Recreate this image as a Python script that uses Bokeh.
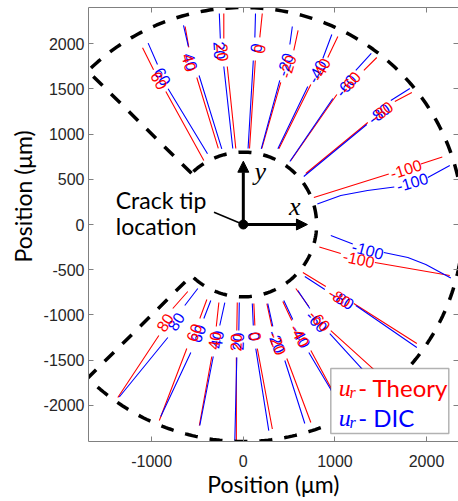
import numpy as np
from bokeh.plotting import figure
from bokeh.models import (FixedTicker, LinearAxis, CustomJSTickFormatter, Label, Title,
                          Arrow, NormalHead, BoxAnnotation)
from bokeh.core.properties import value
from bokeh.embed import file_html
from bokeh.resources import INLINE

nan = float("nan")

# ---------------- data (positions in micrometres) ----------------
x_ticks = [-1000, 0, 1000, 2000]
y_ticks = [-2000, -1500, -1000, -500, 0, 500, 1000, 1500, 2000]

levels = [60, 40, 20, 0, -20, -40, -60, -80, -100,
          -100, -80, -60, -40, -20, 0, 20, 40, 60, 80]

# theory (red) contour polylines, nan = gap for the inline label
theory_x = [
    [-1100, -980, nan, -846, -431],
    [-635, -595, nan, -508, -273],
    [-213, -213, nan, -175, -82],
    [207, 180, nan, 131, 68],
    [598, 551, nan, 409, 202],
    [1032, 922, nan, 737, 388],
    [1457, 1316, nan, 1021, 519],
    [1840, 1654, nan, 1359, 682],
    [2172, 1938, nan, 1588, 770],
    [830, 1064, nan, 1436, 2254],
    [650, 901, nan, 1206, 1894],
    [573, 715, nan, 955, 1414, 1556],
    [431, 529, nan, 737, 955, 1086],
    [257, 311, nan, 475, 737],
    [115, 126, nan, 153, 317],
    [-66, -71, nan, -76, -76],
    [-267, -295, nan, -344, -480],
    [-398, -475, nan, -617, -917],
    [-606, -770, nan, -922, -1370],
]
theory_y = [
    [1955, 1711, nan, 1471, 708],
    [2190, 1958, nan, 1626, 841],
    [2334, 2058, nan, 1748, 841],
    [2334, 2069, nan, 1814, 841],
    [2146, 1925, nan, 1571, 841],
    [2080, 1847, nan, 1549, 837],
    [1847, 1704, nan, 1438, 708],
    [1460, 1361, nan, 1128, 564],
    [747, 669, nan, 559, 299],
    [-249, -321, nan, -420, -564],
    [-531, -686, nan, -874, -1316],
    [-708, -907, nan, -1173, -1593, -1759],
    [-852, -1062, nan, -1394, -1803, -2102],
    [-874, -1128, nan, -1482, -2190],
    [-874, -1117, nan, -1372, -2262],
    [-863, -1173, nan, -1471, -2389],
    [-863, -1128, nan, -1460, -2223],
    [-830, -1040, nan, -1372, -2168],
    [-741, -929, nan, -1228, -1914],
]

# DIC (blue) contour polylines
dic_x = [
    [-1039, -937, nan, -821, -391],
    [-653, -600, nan, -483, -235],
    [-262, -251, nan, -213, -115],
    [133, 126, nan, 109, 52],
    [535, 508, nan, 398, 196],
    [966, 868, nan, 704, 377],
    [1397, 1228, nan, 977, 508],
    [1818, 1610, nan, 1348, 660],
    [2254, 2014, nan, 1648, 1356, 1064, 808],
    [955, 1195, nan, 1534, 1796, 1992, 2265],
    [671, 890, nan, 1228, 1894],
    [595, 726, nan, 944, 1283, 1447],
    [442, 540, nan, 715, 955, 1075],
    [267, 322, nan, 453, 671],
    [98, 109, nan, 136, 278],
    [-44, -49, nan, -71, -93],
    [-202, -257, nan, -328, -475],
    [-355, -431, nan, -573, -901],
    [-497, -639, nan, -824, -1354],
]
dic_y = [
    [2006, 1770, nan, 1501, 782],
    [2201, 1969, nan, 1648, 837],
    [2334, 2058, nan, 1748, 841],
    [2334, 2069, nan, 1814, 841],
    [2190, 1991, nan, 1593, 837],
    [2102, 1836, nan, 1527, 837],
    [1892, 1704, nan, 1394, 697],
    [1504, 1372, nan, 1106, 531],
    [653, 520, nan, 415, 376, 321, 227],
    [-122, -216, nan, -310, -365, -442, -592],
    [-575, -719, nan, -896, -1361],
    [-730, -929, nan, -1206, -1582, -1781],
    [-841, -1051, nan, -1416, -1825, -2113],
    [-874, -1128, nan, -1504, -2201],
    [-874, -1117, nan, -1372, -2279],
    [-863, -1173, nan, -1471, -2389],
    [-863, -1117, nan, -1460, -2223],
    [-841, -1040, nan, -1416, -2124],
    [-708, -896, nan, -1250, -1908],
]

# inline contour labels
theory_label_x = [-917, -590, -224, 175, 486, 846, 1163, 1512, 1774,
                  1261, 1053, 835, 617, 377, 136, -82, -317, -540, -857]
theory_label_y = [1593, 1790, 1903, 1941, 1748, 1715, 1571, 1250, 614,
                  -382, -808, -1062, -1228, -1316, -1239, -1305, -1283, -1195, -1084]
theory_label_angle = [-62, -75, -86, 84, 73, 62, 50, 37, 17.5,
                      -12, -32, -46, -61, -70, -83, 88, 81, 69, 57]
dic_label_x = [-879, -575, -257, 136, 453, 802, 1119, 1479, 1845,
               1359, 1086, 802, 628, 366, 120, -60, -289, -497, -737]
dic_label_y = [1637, 1800, 1925, 1953, 1770, 1693, 1538, 1228, 470,
               -282, -830, -1073, -1239, -1294, -1239, -1294, -1272, -1206, -1073]
dic_label_angle = [-62, -75, -86, 84, 73, 62, 50, 37, 16,
                   -15, -32, -46, -61, -70, -83, 88, 81, 69, 57]

# measurement region: annular sector
r_inner, r_outer = 800, 2400
sector_half_angle_deg = 135

# ---------------- figure ----------------
p = figure(width=458, height=501, x_range=(-1690, 2349), y_range=(-2400, 2400),
           output_backend="svg", toolbar_location=None,
           min_border_left=88, min_border_right=0, min_border_top=7, min_border_bottom=60)
p.grid.visible = False
p.outline_line_color = None
p.background_fill_color = "white"

AX = "#808080"
plain = CustomJSTickFormatter(code="return tick.toFixed(0)")
for ax, ticks in ((p.xaxis[0], x_ticks), (p.yaxis[0], y_ticks)):
    ax.ticker = FixedTicker(ticks=ticks)
    ax.formatter = plain
    ax.major_tick_in = 5
    ax.major_tick_out = 0
    ax.minor_tick_line_color = None
    ax.axis_line_color = AX
    ax.major_tick_line_color = AX
    ax.major_label_text_font = "Liberation Sans"
    ax.major_label_text_font_size = "16px"
    ax.major_label_text_color = "#262626"
p.xaxis.major_label_standoff = 13
p.yaxis.major_label_standoff = 4

p.xaxis.axis_label = "Position (μm)"
p.xaxis.axis_label_text_font = "Lato"
p.xaxis.axis_label_text_font_size = "23px"
p.xaxis.axis_label_text_font_style = "normal"
p.xaxis.axis_label_text_color = "black"
p.xaxis.axis_label_standoff = 0

top_axis = LinearAxis(ticker=FixedTicker(ticks=x_ticks),
                      formatter=CustomJSTickFormatter(code="return ''"),
                      major_tick_in=5, major_tick_out=0, minor_tick_line_color=None,
                      axis_line_color=AX, major_tick_line_color=AX,
                      major_label_standoff=0, major_label_text_font_size="0px")
p.add_layout(top_axis, "above")
right_axis = LinearAxis(ticker=FixedTicker(ticks=y_ticks),
                        formatter=CustomJSTickFormatter(code="return ''"),
                        major_tick_in=5, major_tick_out=0, minor_tick_line_color=None,
                        axis_line_color=None, major_tick_line_color=AX,
                        major_label_standoff=0, major_label_text_font_size="0px")
p.add_layout(right_axis, "right")

p.add_layout(Title(text="Position (μm)", align="left", offset=179, standoff=4,
                   vertical_align="top",
                   text_font="Lato", text_font_size="23px", text_font_style="normal",
                   text_color="black"), "left")

# contour lines
p.multi_line(xs=[np.array(v, dtype=float) for v in theory_x],
             ys=[np.array(v, dtype=float) for v in theory_y],
             line_color="#ff0000", line_width=1.1)
p.multi_line(xs=[np.array(v, dtype=float) for v in dic_x],
             ys=[np.array(v, dtype=float) for v in dic_y],
             line_color="#0000ff", line_width=1.1)

lab = [str(v) for v in levels]
p.text(x=dic_label_x, y=dic_label_y, text=lab, angle=dic_label_angle, angle_units="deg",
       text_color="#0000ff", text_font=value("Liberation Sans"), text_font_size=value("16px"),
       text_align="center", text_baseline="middle")
p.text(x=theory_label_x, y=theory_label_y, text=lab, angle=theory_label_angle, angle_units="deg",
       text_color="#ff0000", text_font=value("Liberation Sans"), text_font_size=value("16px"),
       text_align="center", text_baseline="middle")

# dashed sector boundary
a0 = np.deg2rad(sector_half_angle_deg)
t_out = np.linspace(a0, -a0, 300)
t_in = np.linspace(-a0, a0, 200)
bx = np.concatenate([[r_inner * np.cos(a0)], r_outer * np.cos(t_out), r_inner * np.cos(t_in)])
by = np.concatenate([[r_inner * np.sin(a0)], r_outer * np.sin(t_out), r_inner * np.sin(t_in)])
p.line(bx, by, line_color="black", line_width=3.5, line_dash="13 12")

# crack tip marker & coordinate arrows
tip_x, tip_y = 0, 0
arrow_len = 700
pointer_from = (-320, 136)
p.line([pointer_from[0], tip_x], [pointer_from[1], tip_y], line_color="black", line_width=1.5)
p.scatter([tip_x], [tip_y], size=9, color="black")
p.add_layout(Arrow(end=NormalHead(size=11, fill_color="black", line_color="black"),
                   x_start=tip_x, y_start=tip_y, x_end=tip_x, y_end=tip_y + arrow_len,
                   line_width=3, line_color="black"))
p.add_layout(Arrow(end=NormalHead(size=11, fill_color="black", line_color="black"),
                   x_start=tip_x, y_start=tip_y, x_end=tip_x + arrow_len, y_end=tip_y,
                   line_width=3, line_color="black"))
p.add_layout(Label(x=186, y=584, text="y", text_font="Liberation Serif", text_font_style="italic",
                   text_font_size="26px", text_color="black", text_align="center",
                   text_baseline="alphabetic"))
p.add_layout(Label(x=562, y=200, text="x", text_font="Liberation Serif", text_font_style="italic",
                   text_font_size="26px", text_color="black", text_align="center",
                   text_baseline="alphabetic"))
p.add_layout(Label(x=-1392, y=276, text="Crack tip", text_font="Lato", text_font_size="23px",
                   text_color="black", text_align="left", text_baseline="alphabetic"))
p.add_layout(Label(x=-1392, y=-19, text="location", text_font="Lato", text_font_size="23px",
                   text_color="black", text_align="left", text_baseline="alphabetic"))

# legend
p.add_layout(BoxAnnotation(left=955, right=2243, top=-1593, bottom=-2312,
                           fill_color="white", fill_alpha=1, line_color="black", line_width=1.5))
for yb, col, name in ((-1803, "#ff0000", "- Theory"), (-2135, "#0000ff", "- DIC")):
    p.add_layout(Label(x=1043, y=yb, text="u", text_font="Liberation Serif", text_font_style="italic",
                       text_font_size="24px", text_color=col, text_baseline="alphabetic"))
    p.add_layout(Label(x=1160, y=yb - 56, text="r", text_font="Liberation Serif", text_font_style="italic",
                       text_font_size="16px", text_color=col, text_baseline="alphabetic"))
    p.add_layout(Label(x=1255, y=yb, text=name, text_font="Lato", text_font_size="24px",
                       text_color=col, text_baseline="alphabetic"))

open("out.html", "w").write(file_html(p, INLINE))
